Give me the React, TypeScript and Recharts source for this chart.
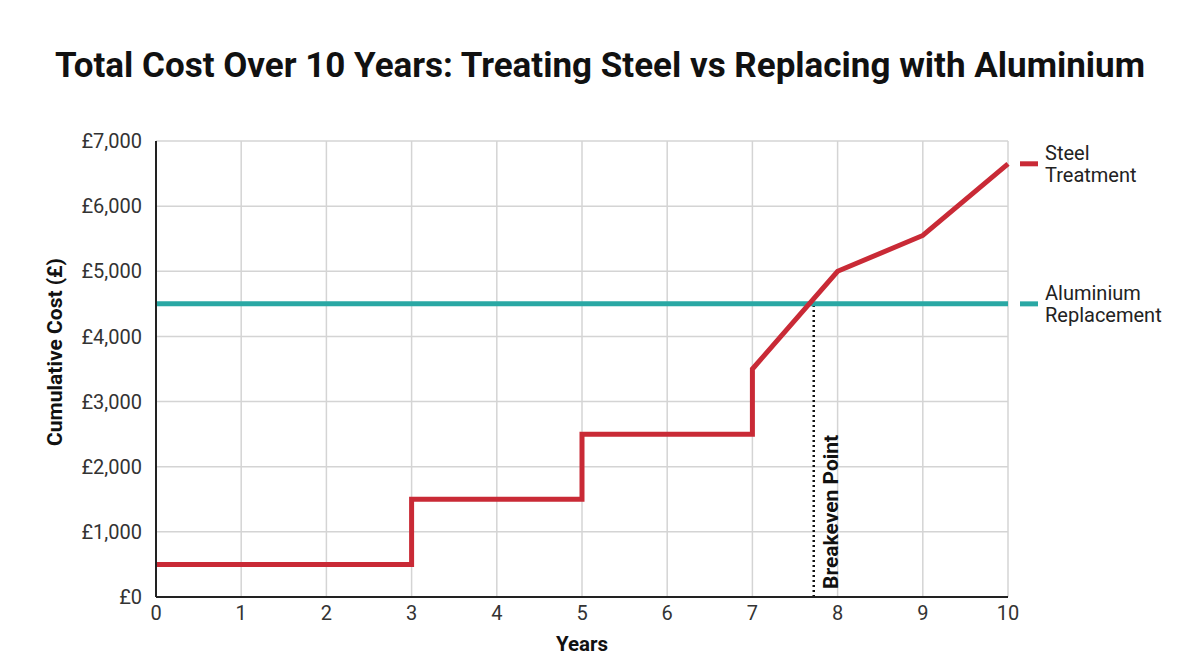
import React from "react";
import {
  LineChart,
  Line,
  XAxis,
  YAxis,
  CartesianGrid,
  ReferenceLine,
} from "recharts";

// cumulative cost, £, per year
const steelData = [
  { year: 0, cost: 500 },
  { year: 3, cost: 500 },
  { year: 3, cost: 1500 },
  { year: 5, cost: 1500 },
  { year: 5, cost: 2500 },
  { year: 7, cost: 2500 },
  { year: 7, cost: 3500 },
  { year: 8, cost: 5000 },
  { year: 9, cost: 5550 },
  { year: 10, cost: 6650 },
];
const aluminiumData = [
  { year: 0, cost: 4500 },
  { year: 10, cost: 4500 },
];
const breakevenYear = 7.72;
const breakevenCost = 4500;
const yearTicks = [0, 1, 2, 3, 4, 5, 6, 7, 8, 9, 10];
const costTicks = [0, 1000, 2000, 3000, 4000, 5000, 6000, 7000];

const RED = "#c92a36";
const TEAL = "#2aa8a4";
const FONT = "Roboto, sans-serif";

const fmtPounds = (v: number) => `£${v.toLocaleString("en-GB")}`;

function endLabel(lines: string[], color: string, lastIndex: number) {
  return (props: any) => {
    if (props.index !== lastIndex) return null;
    const { x, y } = props;
    return (
      <g>
        <line x1={x + 12} x2={x + 30} y1={y} y2={y} stroke={color} strokeWidth={5} />
        {lines.map((t, i) => (
          <text
            key={i}
            x={x + 37}
            y={y + (i - (lines.length - 1) / 2) * 22}
            dominantBaseline="central"
            fontSize={20}
            fill="#222"
            fontFamily={FONT}
          >
            {t}
          </text>
        ))}
      </g>
    );
  };
}

export default function App() {
  return (
    <div
      style={{
        position: "fixed",
        left: 0,
        top: 0,
        width: 1200,
        height: 669,
        background: "#fff",
        fontFamily: FONT,
      }}
    >
      <div
        style={{
          position: "absolute",
          top: 45,
          left: 0,
          width: 1200,
          textAlign: "center",
          fontSize: 35,
          fontWeight: 700,
          color: "#111",
          lineHeight: "42px",
        }}
      >
        Total Cost Over 10 Years: Treating Steel vs Replacing with Aluminium
      </div>
      <LineChart
        width={1200}
        height={669}
        margin={{ top: 141, right: 192, left: 46, bottom: 12 }}
        style={{ position: "absolute", left: 0, top: 0 }}
      >
        <CartesianGrid stroke="#d4d4d4" strokeWidth={1.5} />
        <XAxis
          dataKey="year"
          type="number"
          domain={[0, 10]}
          ticks={yearTicks}
          height={60}
          tickLine={false}
          tickSize={0}
          tickMargin={9}
          axisLine={{ stroke: "#222", strokeWidth: 2 }}
          tick={{ fill: "#333", fontSize: 20, fontFamily: FONT }}
          allowDuplicatedCategory
          label={(props: any) => {
            const vb = props.viewBox;
            return (
              <text
                x={vb.x + vb.width / 2}
                y={vb.y + 47}
                textAnchor="middle"
                dominantBaseline="central"
                fontSize={20.5}
                fontWeight={700}
                fill="#111"
                fontFamily={FONT}
              >
                Years
              </text>
            );
          }}
        />
        <YAxis
          type="number"
          domain={[0, 7000]}
          ticks={costTicks}
          width={110}
          tickLine={false}
          tickSize={0}
          tickMargin={14}
          axisLine={{ stroke: "#222", strokeWidth: 2 }}
          tickFormatter={fmtPounds}
          tick={{ fill: "#333", fontSize: 20, fontFamily: FONT }}
          label={(props: any) => {
            const vb = props.viewBox;
            const cx = vb.x + 9;
            const cy = vb.y + vb.height / 2 - 17;
            return (
              <text
                x={cx}
                y={cy}
                transform={`rotate(-90, ${cx}, ${cy})`}
                textAnchor="middle"
                dominantBaseline="central"
                fontSize={21}
                fontWeight={700}
                fill="#111"
                fontFamily={FONT}
              >
                Cumulative Cost (£)
              </text>
            );
          }}
        />
        <ReferenceLine
          stroke="#111"
          strokeWidth={2.5}
          strokeDasharray="2 3"
          segment={[
            { x: breakevenYear, y: 0 },
            { x: breakevenYear, y: breakevenCost },
          ]}
          label={(props: any) => {
            const vb = props.viewBox;
            const cx = vb.x + 17;
            const cy = 589;
            return (
              <text
                x={cx}
                y={cy}
                transform={`rotate(-90, ${cx}, ${cy})`}
                textAnchor="start"
                dominantBaseline="central"
                fontSize={21}
                fontWeight={700}
                fill="#111"
                fontFamily={FONT}
              >
                Breakeven Point
              </text>
            );
          }}
        />
        <Line
          data={aluminiumData}
          dataKey="cost"
          type="linear"
          stroke={TEAL}
          strokeWidth={5}
          dot={false}
          isAnimationActive={false}
          label={endLabel(["Aluminium", "Replacement"], TEAL, aluminiumData.length - 1)}
        />
        <Line
          data={steelData}
          dataKey="cost"
          type="linear"
          stroke={RED}
          strokeWidth={5}
          strokeLinejoin="miter"
          dot={false}
          isAnimationActive={false}
          label={endLabel(["Steel", "Treatment"], RED, steelData.length - 1)}
        />
      </LineChart>
    </div>
  );
}
